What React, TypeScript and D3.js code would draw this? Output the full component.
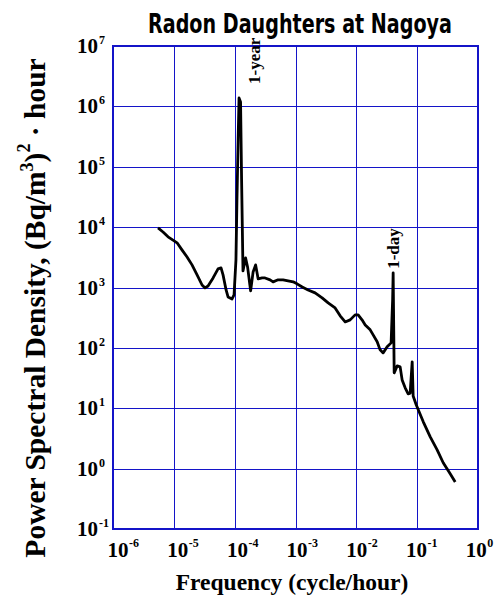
import React, { useEffect, useRef } from 'react';
import * as d3 from 'd3';

// (cycle/hour, (Bq/m3)^2 * hour)
const frequency = [
    5.5e-6, 6.64e-6, 8.03e-6, 9.7e-6, 1.13e-5, 1.36e-5, 1.65e-5, 1.99e-5, 2.41e-5, 2.91e-5,
    3.26e-5, 3.65e-5, 4.42e-5, 5.33e-5, 5.97e-5, 6.44e-5, 7.23e-5, 7.78e-5, 9.06e-5, 9.77e-5,
    1.05e-4, 1.09e-4, 1.14e-4, 1.18e-4, 1.25e-4, 1.3e-4, 1.37e-4, 1.51e-4, 1.63e-4, 1.83e-4,
    2.01e-4, 2.21e-4, 2.43e-4, 2.83e-4, 3.16e-4, 3.82e-4, 4.28e-4, 5.18e-4, 6.25e-4, 7.55e-4,
    9.14e-4, 1.06e-3, 1.29e-3, 1.61e-3, 2.1e-3, 2.74e-3, 3.44e-3, 4.48e-3, 5.42e-3, 6.55e-3,
    7.91e-3, 9.55e-3, 1.07e-2, 1.24e-2, 1.4e-2, 1.69e-2, 1.89e-2, 2.2e-2, 2.46e-2, 2.76e-2,
    3.21e-2, 3.73e-2, 3.95e-2, 4.03e-2, 4.19e-2, 4.69e-2, 5.25e-2, 5.66e-2, 6.35e-2, 7.11e-2,
    7.67e-2, 8.28e-2, 8.59e-2, 9.64e-2, 0.126, 0.164, 0.213, 0.268, 0.349, 0.422
];
const psd = [
    9700, 8300, 6900, 6100, 5500, 4200, 3200, 2370, 1620, 1100,
    985, 1060, 1440, 2030, 2110, 1620, 912, 698, 647, 754,
    2860, 28000, 280000, 1380000, 1180000, 60000, 1880, 3090, 2190, 879,
    1810, 2370, 1390, 1440, 1440, 1340, 1240, 1340, 1340, 1290,
    1240, 1150, 1020, 912, 814, 673, 556, 459, 339, 269,
    291, 352, 352, 291, 240, 199, 164, 126, 92.7, 82.6,
    104, 121, 624, 1750, 38.6, 50.3, 48.4, 29.5, 21.8, 17.3,
    17.8, 58.6, 16.0, 11.4, 5.96, 3.36, 2.05, 1.25, 0.82, 0.60
];
const xExponents = [-6, -5, -4, -3, -2, -1, 0];
const yExponents = [-1, 0, 1, 2, 3, 4, 5, 6, 7];
const peaks = [
    { label: '1-year', freq: 1.18e-4, psd: 1.38e6 },
    { label: '1-day', freq: 4.03e-2, psd: 1750 }
];

const width = 495;
const height = 596;
const left = 113, right = 478, top = 46, bottom = 529;
const gridColor = '#1414c8';
const serif = '"Liberation Serif", "Times New Roman", serif';

const App = () => {
    const ref = useRef<SVGSVGElement>(null);

    useEffect(() => {
        const svg = d3.select(ref.current);
        svg.selectAll('*').remove();

        const x = d3.scaleLog().domain([1e-6, 1]).range([left, right]);
        const y = d3.scaleLog().domain([0.1, 1e7]).range([bottom, top]);

        // grid
        svg.append('g')
            .selectAll('line')
            .data(xExponents.slice(1, -1))
            .join('line')
            .attr('x1', d => Math.round(x(10 ** d)) + 0.5)
            .attr('x2', d => Math.round(x(10 ** d)) + 0.5)
            .attr('y1', top)
            .attr('y2', bottom)
            .attr('stroke', gridColor)
            .attr('stroke-width', 1);

        svg.append('g')
            .selectAll('line')
            .data(yExponents.slice(1, -1))
            .join('line')
            .attr('y1', d => Math.round(y(10 ** d)) + 0.5)
            .attr('y2', d => Math.round(y(10 ** d)) + 0.5)
            .attr('x1', left)
            .attr('x2', right)
            .attr('stroke', gridColor)
            .attr('stroke-width', 1);

        svg.append('rect')
            .attr('x', left)
            .attr('y', top)
            .attr('width', right - left)
            .attr('height', bottom - top)
            .attr('fill', 'none')
            .attr('stroke', gridColor)
            .attr('stroke-width', 2);

        // curve
        const line = d3.line<number>()
            .x((d, i) => x(frequency[i]))
            .y(d => y(d));

        svg.append('path')
            .datum(psd)
            .attr('d', line)
            .attr('fill', 'none')
            .attr('stroke', '#000')
            .attr('stroke-width', 2.8)
            .attr('stroke-linejoin', 'round');

        // y tick labels
        const yl = svg.append('g').attr('font-family', serif).attr('font-weight', 'bold');
        yExponents.forEach(e => {
            const py = y(10 ** e);
            yl.append('text').attr('x', 98).attr('y', py + 7).attr('text-anchor', 'end')
                .attr('font-size', 21).text('10');
            yl.append('text').attr('x', 99).attr('y', py - 2).attr('font-size', 12).text(e);
        });

        // x tick labels (labels sit a little tighter than the grid)
        const xl = svg.append('g').attr('font-family', serif).attr('font-weight', 'bold');
        xExponents.forEach((e, i) => {
            const px = x(1e-6) + 5 + i * 59.7;
            xl.append('text').attr('x', px).attr('y', 557).attr('text-anchor', 'middle')
                .attr('font-size', 21).text('10');
            xl.append('text').attr('x', px + 11).attr('y', 547).attr('font-size', 12).text(e);
        });

        // peak labels
        svg.append('g')
            .selectAll('text')
            .data(peaks)
            .join('text')
            .attr('transform', d => d.label === '1-year'
                ? `translate(${x(d.freq) + 21},${y(d.psd) - 14}) rotate(-90)`
                : `translate(${x(d.freq) + 6},${y(d.psd) - 4}) rotate(-90)`)
            .attr('font-family', serif)
            .attr('font-weight', 'bold')
            .attr('font-size', 17)
            .text(d => d.label);

        // title: squeezed horizontally to the reference's condensed look
        const title = svg.append('text')
            .attr('text-anchor', 'middle')
            .attr('font-family', '"DejaVu Sans Condensed", "DejaVu Sans", sans-serif')
            .attr('font-weight', 'bold')
            .attr('font-size', 26)
            .text('Radon Daughters at Nagoya');
        const natural = (title.node() as SVGTextElement).getComputedTextLength() || 304;
        title.attr('transform', `translate(300,33) scale(${304 / natural},1)`);

        svg.append('text')
            .attr('x', 292)
            .attr('y', 590)
            .attr('text-anchor', 'middle')
            .attr('font-family', serif)
            .attr('font-weight', 'bold')
            .attr('font-size', 23.5)
            .text('Frequency (cycle/hour)');

        const yt = svg.append('text')
            .attr('transform', 'translate(45,308) rotate(-90)')
            .attr('text-anchor', 'middle')
            .attr('font-family', serif)
            .attr('font-weight', 'bold')
            .attr('font-size', 29.5);
        yt.append('tspan').text('Power Spectral Density, (Bq/m');
        yt.append('tspan').attr('dy', -12).attr('font-size', 18).text('3');
        yt.append('tspan').attr('dy', 12).text(')');
        yt.append('tspan').attr('dy', -15).attr('font-size', 18).text('2');
        yt.append('tspan').attr('dy', 15).text(' \u00b7 hour');
    }, []);

    return (
        <div style={{ position: 'absolute', left: 0, top: 0 }}>
            <svg ref={ref} width={width} height={height} style={{ display: 'block', background: '#fff' }} />
        </div>
    );
};

export default App;
